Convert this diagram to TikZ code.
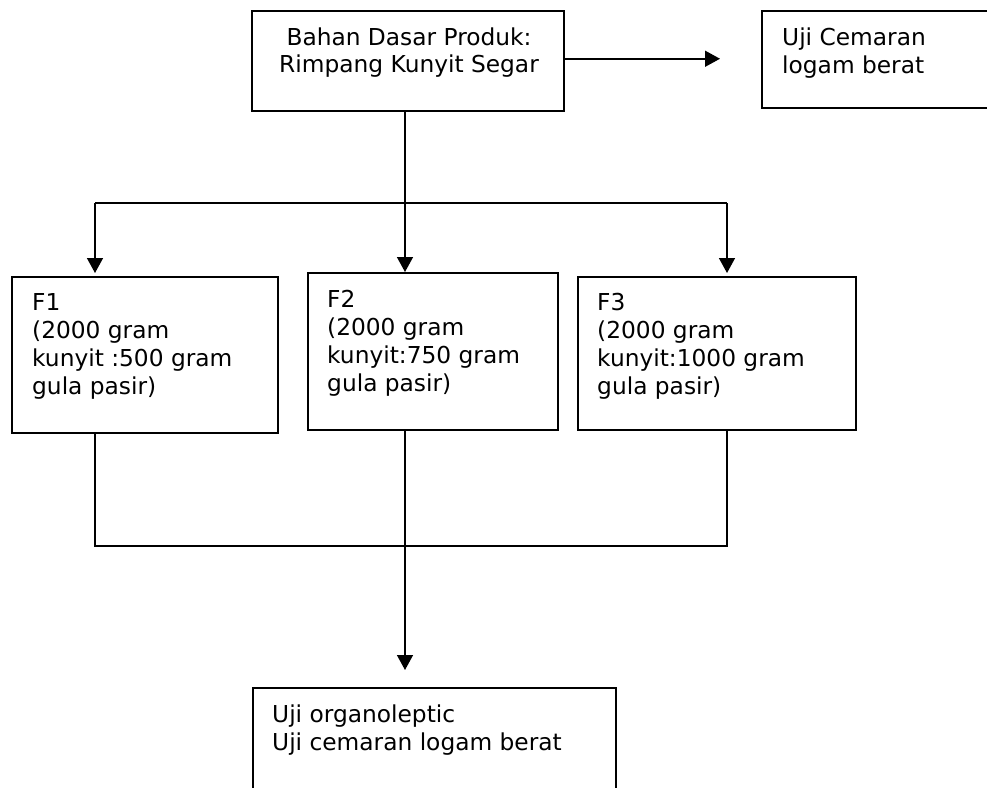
\documentclass[tikz,border=0pt]{standalone}
\usepackage{fontspec}
\setmainfont{DejaVu Sans}
\usetikzlibrary{arrows.meta}
\begin{document}
\begin{tikzpicture}[x=1pt,y=-1pt,
  box/.style={draw, line width=1.5pt, inner sep=0pt, anchor=north west},
  txt/.style={inner sep=0pt, anchor=base west, align=left, font=\fontsize{23.3}{28}\selectfont},
  conn/.style={line width=1.5pt},
  arr/.style={conn, -{Triangle[length=15pt,width=16pt]}}]
\clip (0,0) rectangle (987,787);
% boxes
\node[box, minimum width=312pt, minimum height=100pt] (top) at (251,10) {};
\node[box, minimum width=226pt, minimum height=97pt] (uji) at (761,10) {};
\node[box, minimum width=266pt, minimum height=156pt] (f1) at (11,276) {};
\node[box, minimum width=250pt, minimum height=157pt] (f2) at (307,272) {};
\node[box, minimum width=278pt, minimum height=153pt] (f3) at (577,276) {};
\node[box, minimum width=363pt, minimum height=120pt] (bot) at (252,687) {};
% texts (anchor base = baseline of last line)
\node[txt, anchor=base, align=center, font=\fontsize{23.3}{27}\selectfont] (ttop) at (409,72) {Bahan Dasar Produk:\\Rimpang Kunyit Segar};
\node[txt] (tuji) at (782,73) {Uji Cemaran\\logam berat};
\node[txt] (tf1) at (32,394) {F1\\(2000 gram\\kunyit :500 gram\\gula pasir)};
\node[txt] (tf2) at (327,391) {F2\\(2000 gram\\kunyit:750 gram\\gula pasir)};
\node[txt] (tf3) at (597,394) {F3\\(2000 gram\\kunyit:1000 gram\\gula pasir)};
\node[txt] (tbot) at (272,750) {Uji organoleptic\\Uji cemaran logam berat};
% junction coordinates
\coordinate (ja) at (405,203);
\coordinate (jl) at (95,203);
\coordinate (jr) at (727,203);
\coordinate (ka) at (405,546);
\coordinate (kl) at (95,546);
\coordinate (kr) at (727,546);
% connectors
\draw[arr, shorten >=41pt] ([yshift=2pt]top.east) -- ([yshift=2pt]top.east -| uji.west);
\draw[conn] (top.south -| ja) -- (ja);
\draw[conn] (jl) -- (jr);
\draw[arr, shorten >=3pt] (jl) -- (jl |- f1.north);
\draw[arr] (ja) -- (ja |- f2.north);
\draw[arr, shorten >=3pt] (jr) -- (jr |- f3.north);
\draw[conn] (f1.south -| kl) -- (kl) -- (kr) -- (f3.south -| kr);
\draw[arr, shorten >=17pt] (f2.south -| ka) -- (ka |- bot.north);
\end{tikzpicture}
\end{document}
